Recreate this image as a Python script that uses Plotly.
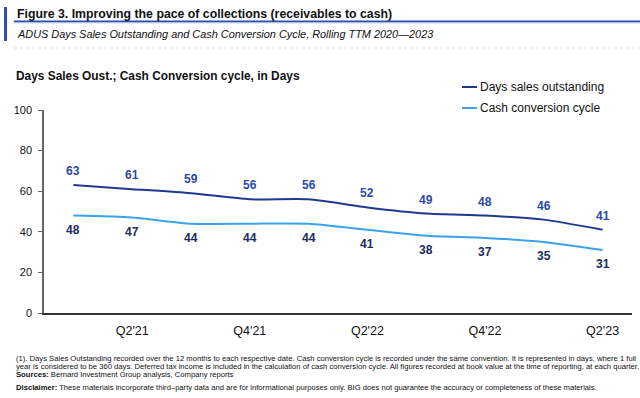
import plotly.graph_objects as go

quarters = ["Q1'21", "Q2'21", "Q3'21", "Q4'21", "Q1'22", "Q2'22", "Q3'22", "Q4'22", "Q1'23", "Q2'23"]
dso = [63, 61, 59, 56, 56, 52, 49, 48, 46, 41]
ccc = [48, 47, 44, 44, 44, 41, 38, 37, 35, 31]
tick_labels = ["Q2'21", "Q4'21", "Q2'22", "Q4'22", "Q2'23"]
series_names = ["Days sales outstanding", "Cash conversion cycle"]

W, H = 640, 398
L, R, T, B = 44, 8, 110, 85
PW, PH = W - L - R, H - T - B

def px(x):
    return (x - L) / PW

def py(y):
    return (H - B - y) / PH

DARK = "#1f3990"
LIGHT = "#3ba3ea"
LBL_DSO = "#2a4aa8"
LBL_CCC = "#1c2b5e"
FONT = "Liberation Sans, Arial, sans-serif"

fig = go.Figure()
fig.add_trace(go.Scatter(x=quarters, y=dso, mode="lines", name=series_names[0],
                         line=dict(color=DARK, width=2, shape="spline", smoothing=0.6)))
fig.add_trace(go.Scatter(x=quarters, y=ccc, mode="lines", name=series_names[1],
                         line=dict(color=LIGHT, width=2, shape="spline", smoothing=0.6)))

ann = []
for q, v in zip(quarters, dso):
    ann.append(dict(x=q, y=v, xref="x", yref="y", text=f"<b>{v}</b>", showarrow=False,
                    yshift=14, font=dict(size=12, color=LBL_DSO, family=FONT)))
for q, v in zip(quarters, ccc):
    ann.append(dict(x=q, y=v, xref="x", yref="y", text=f"<b>{v}</b>", showarrow=False,
                    yshift=-14, font=dict(size=12, color=LBL_CCC, family=FONT)))

# Header texts
ann.append(dict(x=px(15), y=py(14), xref="paper", yref="paper", xanchor="left", yanchor="middle",
                text="<b>Figure 3. Improving the pace of collections (receivables to cash)</b>",
                showarrow=False, font=dict(size=12.3, color="#111111", family=FONT)))
ann.append(dict(x=px(15), y=py(34), xref="paper", yref="paper", xanchor="left", yanchor="middle",
                text="<i>ADUS Days Sales Outstanding and Cash Conversion Cycle, Rolling TTM 2020\u20142023</i>",
                showarrow=False, font=dict(size=10.9, color="#111111", family=FONT)))
ann.append(dict(x=px(14), y=py(76), xref="paper", yref="paper", xanchor="left", yanchor="middle",
                text="<b>Days Sales Oust.; Cash Conversion cycle, in Days</b>",
                showarrow=False, font=dict(size=11.9, color="#111111", family=FONT)))

# Legend (manual)
shapes = []
for i, (name, col) in enumerate(zip(series_names, [DARK, LIGHT])):
    yy = 87 + i * 21
    shapes.append(dict(type="line", xref="paper", yref="paper", x0=px(462), x1=px(477),
                       y0=py(yy), y1=py(yy), line=dict(color=col, width=2)))
    ann.append(dict(x=px(478), y=py(yy), xref="paper", yref="paper", xanchor="left", yanchor="middle",
                    text=name, showarrow=False, font=dict(size=12, color="#111111", family=FONT)))

# Footnotes
foot = [
    ("(1). Days Sales Outstanding recorded over the 12 months to each respective date. Cash conversion cycle is recorded under the same convention. It is represented in days, where 1 full", 358),
    ("year is considered to be 360 days. Deferred tax income is included in the calculation of cash conversion cycle. All figures recorded at book value at the time of reporting, at each quarter.", 366),
    ("<b>Sources:</b> Bernard Investment Group analysis, Company reports", 374),
    ("<b>Disclaimer:</b> These materials incorporate third\u2013party data and are for informational purposes only. BIG does not guarantee the accuracy or completeness of these materials.", 387),
]
for t, yy in foot:
    ann.append(dict(x=px(14), y=py(yy), xref="paper", yref="paper", xanchor="left", yanchor="middle",
                    text=t, showarrow=False, font=dict(size=7.65, color="#111111", family=FONT)))

# Header decorations
shapes.append(dict(type="rect", xref="paper", yref="paper", x0=px(4), x1=px(7), y0=py(41), y1=py(7),
                   fillcolor="#2a4fb0", line=dict(width=0)))
shapes.append(dict(type="line", xref="paper", yref="paper", x0=px(14), x1=px(640), y0=py(21.5), y1=py(21.5),
                   line=dict(color="#2a4fb0", width=2)))
shapes.append(dict(type="line", xref="paper", yref="paper", x0=px(14), x1=px(640), y0=py(23), y1=py(23),
                   line=dict(color="#c9d6ee", width=1)))
shapes.append(dict(type="line", xref="paper", yref="paper", x0=px(14), x1=px(640), y0=py(48), y1=py(48),
                   line=dict(color="#dddddd", width=1, dash="dot")))

fig.update_layout(
    width=W, height=H,
    margin=dict(l=L, r=R, t=T, b=B, pad=0),
    paper_bgcolor="white", plot_bgcolor="white",
    showlegend=False,
    annotations=ann, shapes=shapes,
    font=dict(family=FONT, color="#111111"),
    xaxis=dict(type="category", range=[-0.5, 9.5], tickmode="array",
               tickvals=tick_labels, ticktext=tick_labels,
               showgrid=False, zeroline=False, showline=True, linecolor="#333333", linewidth=1.5,
               ticks="", ticklabelstandoff=5, tickfont=dict(size=12.5, color="#111111")),
    yaxis=dict(range=[0, 100], tickvals=[0, 20, 40, 60, 80, 100],
               showgrid=False, zeroline=False, showline=True, linecolor="#666666", linewidth=1.5,
               ticks="outside", ticklen=4, tickcolor="#666666", tickwidth=1,
               ticklabelstandoff=4, tickfont=dict(size=11, color="#111111")),
)

fig.write_html("out.html", config={"displayModeBar": False},
               post_script="document.body.style.margin='0';")
